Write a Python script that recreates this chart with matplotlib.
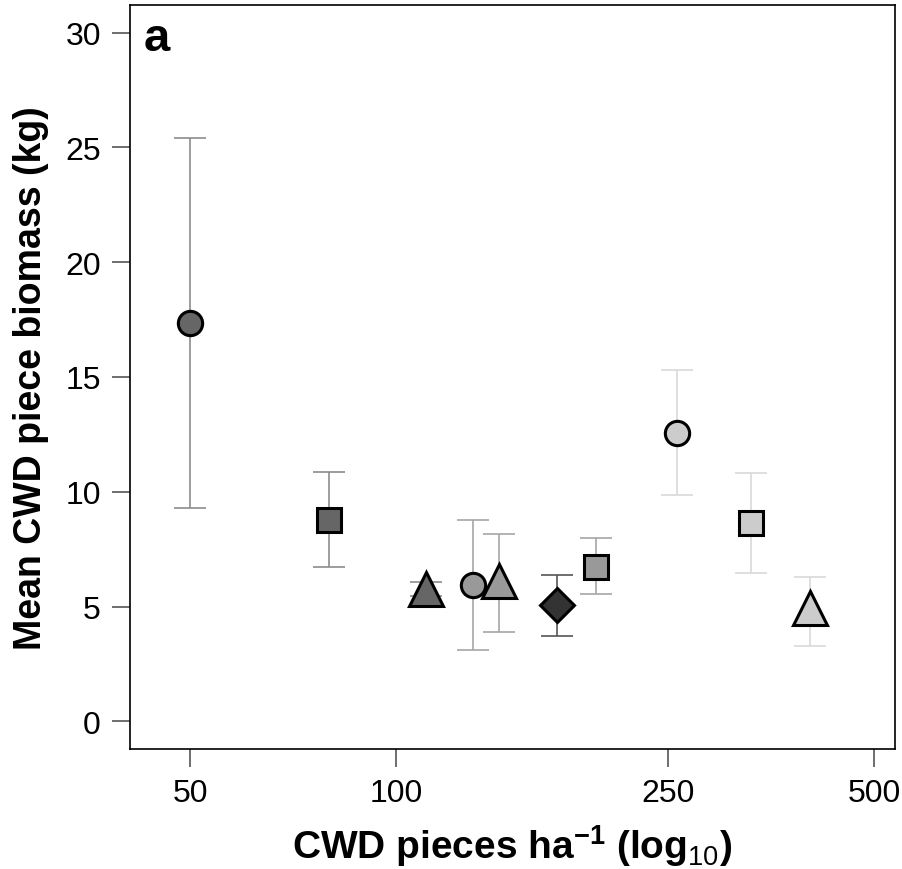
import matplotlib
matplotlib.use("Agg")
import matplotlib.pyplot as plt
import numpy as np

plt.rcParams['font.family'] = ['Liberation Sans', 'DejaVu Sans']
plt.rcParams['mathtext.fontset'] = 'custom'
plt.rcParams['mathtext.bf'] = 'Liberation Sans:bold'
plt.rcParams['mathtext.rm'] = 'Liberation Sans'
plt.rcParams['mathtext.default'] = 'bf'

# data: pieces per ha (x), mean biomass (y), error bar lower/upper
x_vals = [50, 79.8, 110.4, 129.3, 141.1, 171.8, 195.9, 257.5, 330, 402.5]
y_vals = [17.35, 8.77, 5.75, 5.94, 6.1, 5.06, 6.74, 12.58, 8.65, 4.96]
y_low = [9.30, 6.73, 5.45, 3.10, 3.91, 3.72, 5.53, 9.84, 6.45, 3.30]
y_high = [25.4, 10.86, 6.09, 8.77, 8.17, 6.39, 7.99, 15.3, 10.84, 6.30]
markers = ['o', 's', '^', 'o', '^', 'D', 's', 'o', 's', '^']
face_colors = ['#666666', '#666666', '#666666', '#999999', '#999999',
               '#333333', '#999999', '#cccccc', '#cccccc', '#cccccc']
err_colors = ['#8c8c8c', '#8c8c8c', '#8c8c8c', '#a6a6a6', '#a6a6a6',
              '#555555', '#a6a6a6', '#d9d9d9', '#d9d9d9', '#d9d9d9']
marker_sizes = [17.5, 17, 24, 17.5, 24, 17, 17, 17.5, 17, 24]

x_ticks = [50, 100, 250, 500]
y_ticks = [0, 5, 10, 15, 20, 25, 30]

fig = plt.figure(figsize=(9.02, 8.70), dpi=100)
ax = fig.add_axes([130/902, (870-750)/870, (895-130)/902, (750-6)/870])
ax.set_xscale('log')

for i in range(len(x_vals)):
    ax.errorbar(x_vals[i], y_vals[i],
                yerr=[[y_vals[i]-y_low[i]], [y_high[i]-y_vals[i]]],
                fmt='none', ecolor=err_colors[i], elinewidth=1.2,
                capsize=11.5, capthick=1.2, zorder=2)
for i in range(len(x_vals)):
    ax.plot(x_vals[i], y_vals[i], marker=markers[i], markersize=marker_sizes[i],
            markerfacecolor=face_colors[i], markeredgecolor='black',
            markeredgewidth=2.2, linestyle='none', zorder=3)

ax.set_xlim(40.8, 536)
ax.set_ylim(-1.2, 31.2)
ax.set_xticks(x_ticks)
ax.set_xticklabels([str(t) for t in x_ticks])
ax.xaxis.set_minor_locator(matplotlib.ticker.NullLocator())
ax.set_yticks(y_ticks)
ax.set_yticklabels([str(t) for t in y_ticks])
ax.tick_params(axis='both', direction='out', length=13, width=1.2,
               color='#555555', labelsize=23, pad=8)
for s in ax.spines.values():
    s.set_linewidth(1.2)

ax.set_ylabel('Mean CWD piece biomass (kg)', fontsize=27, fontweight='bold', labelpad=12)
ax.set_xlabel(r'CWD pieces ha$^{-1}$ $($log$_{\mathrm{10}})$', fontsize=28,
              fontweight='bold', labelpad=10)
ax.text(0.018, 0.985, 'a', transform=ax.transAxes, fontsize=34, fontweight='bold',
        ha='left', va='top')

fig.savefig('out.png', dpi=100)
